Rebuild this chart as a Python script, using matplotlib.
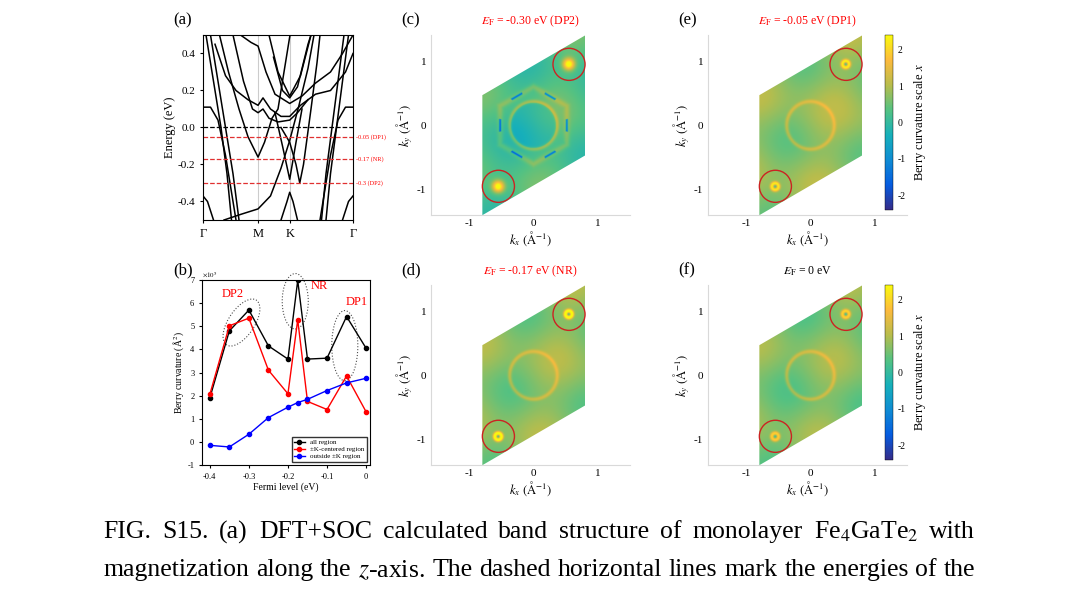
import matplotlib
matplotlib.use("Agg")
import matplotlib.pyplot as plt
import numpy as np
from matplotlib.colors import LinearSegmentedColormap
from matplotlib.patches import Polygon, Circle, Ellipse

plt.rcParams["font.family"] = ["Liberation Serif", "DejaVu Serif"]
plt.rcParams["mathtext.fontset"] = "stix"
plt.rcParams["axes.unicode_minus"] = False

# ---- data ----
# band structure: k-path positions and hand-read band points (k, E)
k_ticks = [0.0, 0.367, 0.578, 1.0]
k_labels = ["Γ", "M", "K", "Γ"]
bands = [
    [(0, 0.11), (0.05, 0.11), (0.1, 0.04), (0.15, -0.15), (0.2, -0.4), (0.22, -0.5)],
    [(1, 0.11), (0.95, 0.11), (0.9, 0.04), (0.85, -0.15), (0.8, -0.4), (0.78, -0.5)],
    [(0, -0.37), (0.03, -0.4), (0.07, -0.5)],
    [(1, -0.37), (0.97, -0.4), (0.93, -0.5)],
    [(0.02, 0.5), (0.07, 0.25), (0.12, 0.0), (0.16, -0.25), (0.19, -0.5)],
    [(0.05, 0.5), (0.1, 0.25), (0.15, 0.0), (0.2, -0.25), (0.24, -0.5)],
    [(0.97, 0.5), (0.93, 0.25), (0.89, 0.0), (0.85, -0.25), (0.82, -0.5)],
    [(0.94, 0.5), (0.9, 0.25), (0.86, 0.0), (0.82, -0.25), (0.79, -0.5)],
    [(0.11, 0.5), (0.17, 0.3), (0.24, 0.1), (0.3, -0.05), (0.367, -0.16), (0.41, -0.08), (0.46, 0.05), (0.5, 0.1), (0.55, 0.35), (0.58, 0.5)],
    [(0.14, -0.5), (0.25, -0.47), (0.367, -0.44), (0.45, -0.37), (0.52, -0.22), (0.578, -0.07), (0.64, 0.12), (0.7, 0.32), (0.74, 0.5)],
    [(0.48, 0.08), (0.53, -0.1), (0.578, -0.28), (0.62, -0.08), (0.66, 0.1)],
    [(0.52, 0.0), (0.578, -0.08), (0.62, -0.2), (0.645, -0.3), (0.67, -0.2), (0.72, 0.1), (0.76, 0.35), (0.78, 0.5)],
    [(0.52, -0.5), (0.56, -0.4), (0.578, -0.35), (0.6, -0.4), (0.63, -0.5)],
    [(0.44, 0.5), (0.5, 0.3), (0.578, 0.17), (0.65, 0.28), (0.72, 0.5)],
    [(0.47, 0.38), (0.53, 0.2), (0.578, 0.16), (0.63, 0.22), (0.7, 0.45), (0.72, 0.5)],
    [(0.25, 0.5), (0.32, 0.46), (0.367, 0.44), (0.42, 0.3), (0.48, 0.18), (0.578, 0.13), (0.66, 0.17), (0.75, 0.24), (0.85, 0.3), (0.93, 0.4), (1, 0.5)],
    [(0.08, 0.45), (0.15, 0.28), (0.22, 0.2), (0.3, 0.15), (0.367, 0.12), (0.4, 0.16), (0.45, 0.1), (0.52, 0.06), (0.578, 0.06), (0.65, 0.12), (0.75, 0.18), (0.85, 0.2), (0.95, 0.3), (1, 0.4)],
    [(0.2, 0.5), (0.27, 0.25), (0.33, 0.1), (0.367, 0.08), (0.4, 0.1), (0.44, 0.05), (0.5, 0.03), (0.578, 0.04), (0.63, 0.08), (0.7, 0.15)],
]
e_levels = [0.0, -0.05, -0.17, -0.3]
e_level_labels = ["", "-0.05 (DP1)", "-0.17 (NR)", "-0.3 (DP2)"]

# Berry curvature vs Fermi level (x1e5 A^2)
fermi = [-0.4, -0.35, -0.3, -0.25, -0.2, -0.175, -0.15, -0.1, -0.05, 0.0]
bc_all = [1.9, 4.8, 5.7, 4.15, 3.58, 6.98, 3.58, 3.62, 5.42, 4.05]
bc_k = [2.05, 5.02, 5.35, 3.1, 2.08, 5.28, 1.75, 1.4, 2.85, 1.3]
bc_out = [-0.15, -0.22, 0.33, 1.05, 1.5, 1.7, 1.84, 2.22, 2.55, 2.75]

# map panels: label, title, title colour, hotspot amplitude, background level, hexagon dip
maps = [
    ("(c)", r"$E_\mathrm{F}$ = -0.30 eV (DP2)", "red", 2.4, 0.25, -2.2),
    ("(e)", r"$E_\mathrm{F}$ = -0.05 eV (DP1)", "red", 1.6, 0.75, 0.0),
    ("(d)", r"$E_\mathrm{F}$ = -0.17 eV (NR)", "red", 2.2, 0.7, 0.0),
    ("(f)", r"$E_\mathrm{F}$ = 0 eV", "black", 1.4, 0.65, 0.0),
]
kpts = [(0.55, 0.95), (-0.55, -0.95)]

caption = [
    "FIG. S15. (a) DFT+SOC calculated band structure of monolayer Fe$_4$GaTe$_2$ with",
    "magnetization along the $z$-axis. The dashed horizontal lines mark the energies of the",
]

parula = LinearSegmentedColormap.from_list("parula", [
    (0.21, 0.17, 0.53), (0.02, 0.36, 0.88), (0.06, 0.55, 0.83), (0.09, 0.69, 0.73),
    (0.33, 0.76, 0.51), (0.72, 0.74, 0.30), (0.99, 0.73, 0.24), (0.98, 0.98, 0.05)])

W, H = 1080, 602
fig = plt.figure(figsize=(W / 100, H / 100), dpi=100)


def ax_px(x0, y0, x1, y1):
    return fig.add_axes([x0 / W, 1 - y1 / H, (x1 - x0) / W, (y1 - y0) / H])


# ---- (a) ----
ax = ax_px(203, 35, 353, 220)
for b in bands:
    b = np.array(b)
    ax.plot(b[:, 0], b[:, 1], color="black", lw=1.1)
for kk in k_ticks[1:3]:
    ax.axvline(kk, color="0.8", lw=0.8, zorder=0)
for e, lab in zip(e_levels, e_level_labels):
    ax.axhline(e, color="black" if e == 0 else "#e03030", ls="--", lw=0.9)
    if lab:
        ax.text(1.02, e, lab, color="red", fontsize=4.5, va="center", transform=ax.get_yaxis_transform())
ax.set_xlim(0, 1)
ax.set_ylim(-0.5, 0.5)
ax.set_xticks(k_ticks)
ax.set_xticklabels(k_labels, fontsize=9)
ax.set_yticks([-0.4, -0.2, 0, 0.2, 0.4])
ax.set_yticklabels(["-0.4", "-0.2", "0.0", "0.2", "0.4"], fontsize=8)
ax.set_ylabel("Energy (eV)", fontsize=9, labelpad=1)
ax.tick_params(length=2)
fig.text(173 / W, 1 - 20 / H, "(a)", fontsize=12, va="center")

# ---- (b) ----
ax = ax_px(202, 280, 370, 465)
ax.plot(fermi, bc_all, "-o", color="black", ms=3, lw=1, label="all region")
ax.plot(fermi, bc_k, "-o", color="red", ms=3, lw=1, label="±K-centered region")
ax.plot(fermi, bc_out, "-o", color="blue", ms=3, lw=1, label="outside ±K region")
for c, w, h, ang in [((0.235, 0.77), 0.15, 0.3, -38), ((0.555, 0.885), 0.155, 0.3, 0), ((0.85, 0.645), 0.155, 0.38, 0)]:
    ax.add_patch(Ellipse(c, w, h, angle=ang, fill=False, ls=":", lw=0.8, color="0.3",
                         transform=ax.transAxes, clip_on=False))
ax.text(-0.342, 6.25, "DP2", color="red", fontsize=9, ha="center")
ax.text(-0.12, 6.6, "NR", color="red", fontsize=9, ha="center")
ax.text(-0.025, 5.9, "DP1", color="red", fontsize=9, ha="center")
ax.set_xlim(-0.42, 0.01)
ax.set_ylim(-1, 7)
ax.set_xticks([-0.4, -0.3, -0.2, -0.1, 0])
ax.set_xticklabels(["-0.4", "-0.3", "-0.2", "-0.1", "0"], fontsize=6)
ax.set_yticks(range(-1, 8))
ax.set_yticklabels([str(v) for v in range(-1, 8)], fontsize=6)
ax.tick_params(length=2)
ax.set_xlabel("Fermi level (eV)", fontsize=7, labelpad=1)
ax.set_ylabel("Berry curvature (Å$^2$)", fontsize=7, labelpad=1)
ax.text(0.0, 1.0, r"$\times10^5$", transform=ax.transAxes, fontsize=5, va="bottom")
ax.legend(loc="lower right", fontsize=5, handlelength=1.5, borderpad=0.3, labelspacing=0.2, fancybox=False, edgecolor="black")
fig.text(173 / W, 1 - 270 / H, "(b)", fontsize=12, va="center")

# ---- maps ----
gx, gy = np.meshgrid(np.linspace(-0.8, 0.8, 300), np.linspace(-1.4, 1.4, 500))
r = np.hypot(gx, gy)
th = np.arctan2(gy, gx)
hexr = 0.6 * np.cos(np.pi / 6) / np.cos(((th + np.pi / 6) % (np.pi / 3)) - np.pi / 6)
para = [(-0.8, -1.4), (0.8, -0.47), (0.8, 1.4), (-0.8, 0.47)]
positions = [(431, 35, 630, 215), (708, 35, 907, 215), (431, 285, 630, 465), (708, 285, 907, 465)]
for (lab, title, tcol, amp, bg, dip), (x0, y0, x1, y1) in zip(maps, positions):
    ax = ax_px(x0, y0, x1, y1)
    field = bg + 0.35 * np.sin(3 * gx + 2 * gy) * np.cos(2 * gx - 3 * gy)
    field += 0.6 * np.exp(-((r - 0.37) / 0.03) ** 2)
    field += dip * np.exp(-((r - hexr) / 0.015) ** 2) * (np.abs(np.cos(3 * th)) > 0.85)
    if dip != 0:
        field -= 0.35 * (r < 0.35)
        field += 0.4 * np.exp(-((r - hexr) / 0.05) ** 2)
    for kx, ky in kpts:
        d = np.hypot(gx - kx, gy - ky)
        if dip != 0:
            field += amp * np.exp(-(d / 0.09) ** 2)
        else:
            field += amp * np.exp(-((d - 0.05) / 0.03) ** 2) - 0.6 * np.exp(-(d / 0.03) ** 2)
    im = ax.imshow(field, extent=(-0.8, 0.8, -1.4, 1.4), origin="lower", cmap=parula,
                   vmin=-2.4, vmax=2.4, interpolation="bilinear")
    poly = Polygon(para, closed=True, transform=ax.transData, fc="none", ec="none")
    ax.add_patch(poly)
    im.set_clip_path(poly)
    for kx, ky in kpts:
        ax.add_patch(Circle((kx, ky), 0.25, fill=False, ec="#cc2222", lw=1))
    ax.set_xlim(-1.6, 1.5)
    ax.set_ylim(-1.39, 1.4)
    ax.set_aspect("equal")
    ax.set_xticks([-1, 0, 1])
    ax.set_yticks([-1, 0, 1])
    ax.tick_params(labelsize=8, length=0)
    for s in ["top", "right"]:
        ax.spines[s].set_visible(False)
    for s in ["left", "bottom"]:
        ax.spines[s].set_color("0.85")
    ax.set_xlabel(r"$k_x$ $(\mathrm{\AA}^{-1})$", fontsize=9, labelpad=1)
    ax.set_ylabel(r"$k_y$ $(\mathrm{\AA}^{-1})$", fontsize=9, labelpad=1)
    ax.set_title(title, color=tcol, fontsize=8.5, pad=8)
    fig.text((x0 - 30) / W, 1 - (y0 - 15) / H, lab, fontsize=12, va="center")
    if lab in ("(e)", "(f)"):
        cax = ax_px(885, y0, 893, y1 - 5)
        cb = fig.colorbar(im, cax=cax, ticks=[-2, -1, 0, 1, 2])
        cb.ax.tick_params(labelsize=7, length=0)
        cb.outline.set_linewidth(0.3)
        cb.set_label(r"Berry curvature scale $x$", fontsize=9)

# justified caption lines
renderer = fig.canvas.get_renderer()
left, right = 103, 975
for line, yp in zip(caption, [532, 570]):
    words = line.split(" ")
    texts = [fig.text(0, 1 - yp / H, w, fontsize=18.5, va="center") for w in words]
    widths = [t.get_window_extent(renderer).width for t in texts]
    gap = (right - left - sum(widths)) / (len(words) - 1)
    xp = left
    for t, w in zip(texts, widths):
        t.set_x(xp / W)
        xp += w + gap

fig.savefig("out.png", dpi=100)
